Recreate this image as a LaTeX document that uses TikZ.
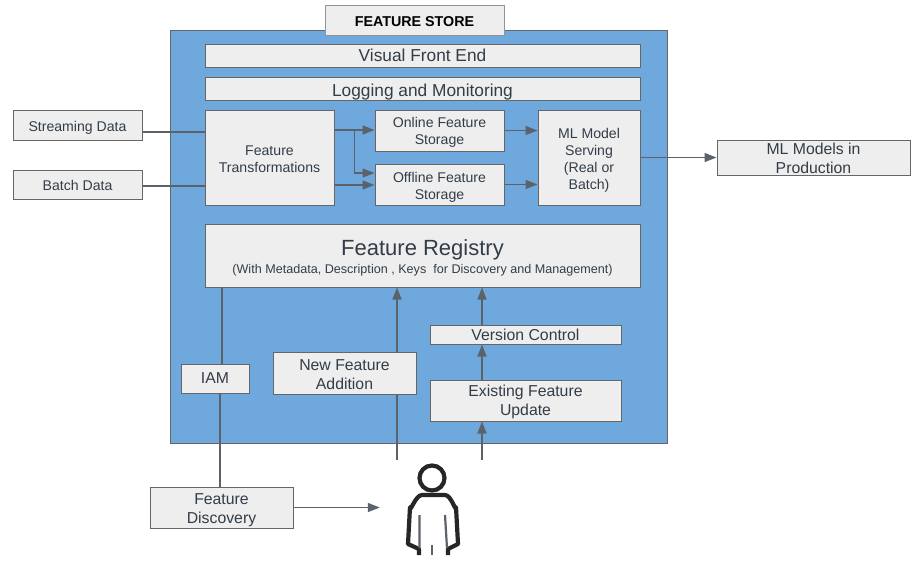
\documentclass[tikz,border=0pt]{standalone}
\usepackage{fontspec}
\setmainfont{Liberation Sans}
\usetikzlibrary{arrows.meta,positioning,calc}
\definecolor{storeblue}{HTML}{6FA8DC}
\definecolor{boxfill}{HTML}{EEEEEE}
\definecolor{boxline}{HTML}{666666}
\definecolor{txtgray}{HTML}{333D47}
\definecolor{linkgray}{HTML}{5B6269}
\newcommand{\fs}[1]{\fontsize{#1}{1.2\dimexpr#1pt\relax}\selectfont}
\newcommand{\dn}[1]{\rule{0pt}{#1pt}}
\tikzset{
  boxnode/.style={draw=boxline,fill=boxfill,line width=1pt,inner sep=0pt,align=center,text=txtgray,font=\fs{15.8}},
  smallbox/.style={boxnode,font=\fs{14.1}},
  link/.style={draw=linkgray,line width=1.4pt},
  arrowlink/.style={link,-{Triangle[length=12pt,width=9pt]}},
}
\begin{document}
\begin{tikzpicture}[x=1pt,y=-1pt]
\useasboundingbox (0,0) rectangle (922,576);
\node[fill=storeblue,draw=boxline,line width=1pt,minimum width=497pt,minimum height=413pt] (main) at (418.5,236.5) {};
\node[boxnode,draw=boxline!70,text=black,font=\fs{14.3}\bfseries,minimum width=179pt,minimum height=30pt] (store) at (414.5,20) {\dn{12.4}FEATURE STORE};
\node[boxnode,font=\fs{17.3},minimum width=435pt,minimum height=23pt] (front) at (422.5,55.5) {Visual Front End};
\node[boxnode,font=\fs{17.3},minimum width=435pt,minimum height=23pt] (logging) at (422.5,88.5) {\dn{18.6}Logging and Monitoring};
\node[smallbox,minimum width=129pt,minimum height=30pt] (stream) at (77.5,125) {\dn{16.3}Streaming Data};
\node[smallbox,minimum width=129pt,minimum height=29pt] (batch) at (77.5,184.5) {\dn{12.3}Batch Data};
\node[smallbox,minimum width=129pt,minimum height=95pt] (trans) at (269.5,157.5) {\dn{13.3}Feature\\Transformations};
\node[smallbox,minimum width=129pt,minimum height=41pt] (online) at (439.5,130.5) {\dn{14.3}Online Feature\\Storage};
\node[smallbox,minimum width=129pt,minimum height=41pt] (offline) at (439.5,184.5) {\dn{15.3}Offline Feature\\Storage};
\node[smallbox,minimum width=102pt,minimum height=95pt] (serving) at (589,157.5) {\dn{16.3}ML Model\\Serving\\(Real or\\Batch)};
\node[boxnode,minimum width=193pt,minimum height=35pt] (prod) at (813.5,157.5) {\dn{13.5}ML Models in\\Production};
\node[boxnode,minimum width=435pt,minimum height=63pt] (registry) at (422.5,255.5) {{\fs{22}\dn{19.8}Feature Registry}\\[-1pt]{\fs{12.6}(With Metadata, Description , Keys\ \ for Discovery and Management)}};
\node[boxnode,minimum width=191pt,minimum height=19pt] (version) at (525.5,334.5) {Version Control};
\node[boxnode,minimum width=143pt,minimum height=42pt] (newfeat) at (344.5,373) {\dn{13.5}New Feature\\Addition};
\node[boxnode,minimum width=191pt,minimum height=41pt] (existing) at (525.5,400.5) {\dn{14.5}Existing Feature\\Update};
\node[boxnode,minimum width=68pt,minimum height=29pt] (iam) at (215,378.5) {IAM};
\node[boxnode,minimum width=143pt,minimum height=41pt] (discovery) at (221.5,507.5) {\dn{15.5}Feature\\Discovery};
\node[fill=white,inner sep=0pt,minimum width=115pt,minimum height=95pt] (person) at (439.5,507.5) {};
% person icon
\draw[black!85,line width=4.2pt] (432,478) circle (12.5);
\draw[black!85,line width=4.2pt,line join=round] (419,555)--(419,549)--(408,544)--(410,507) to[out=-90,in=180] (422,495)--(445,495) to[out=0,in=-90] (456,507)--(458,544)--(448,549)--(448,555);
\draw[linkgray,line width=2.2pt] (419.5,515)--(419.5,548) (445,515)--(447,548);
\draw[linkgray,line width=2.6pt] (432,545)--(432,555);
% inputs and storage
\draw[link] ([yshift=-7pt]stream.east) -- ([yshift=-7pt]stream.east -| trans.west);
\draw[link] ([yshift=-1.5pt]batch.east) -- ([yshift=-1.5pt]batch.east -| trans.west);
\draw[arrowlink] ([yshift=27.5pt]trans.east) -- ([yshift=27.5pt]trans.east -| online.west);
\coordinate (branch) at ($(trans.east)!0.5!(trans.east -| online.west)+(0,-27.5)$);
\draw[arrowlink] (branch) |- ([yshift=11.5pt]offline.west);
\draw[arrowlink] ([yshift=-27.5pt]trans.east) -- ([yshift=-27.5pt]trans.east -| offline.west);
\draw[arrowlink] (online.east) -- (online.east -| serving.west);
\draw[arrowlink] (offline.east) -- (offline.east -| serving.west);
\draw[arrowlink] (serving.east) -- (prod.west);
% registry side
\draw[link] ([xshift=7pt]iam.north) -- ([xshift=7pt]iam.north |- registry.south);
\draw[link] ([xshift=5pt]iam.south) -- ([xshift=5pt]iam.south |- discovery.north);
\draw[link] ([xshift=-42.5pt]person.north) -- ([xshift=-42.5pt]person.north |- newfeat.south);
\draw[arrowlink] ([xshift=-42.5pt]person.north |- newfeat.north) -- ([xshift=-42.5pt]person.north |- registry.south);
\draw[arrowlink] ([xshift=42.5pt]person.north) -- ([xshift=42.5pt]person.north |- existing.south);
\draw[arrowlink] ([xshift=-43.5pt]existing.north) -- ([xshift=-43.5pt]existing.north |- version.south);
\draw[arrowlink] ([xshift=-43.5pt]version.north) -- ([xshift=-43.5pt]version.north |- registry.south);
\draw[arrowlink] (discovery.east) -- ([xshift=-2pt]person.west);
\end{tikzpicture}
\end{document}
